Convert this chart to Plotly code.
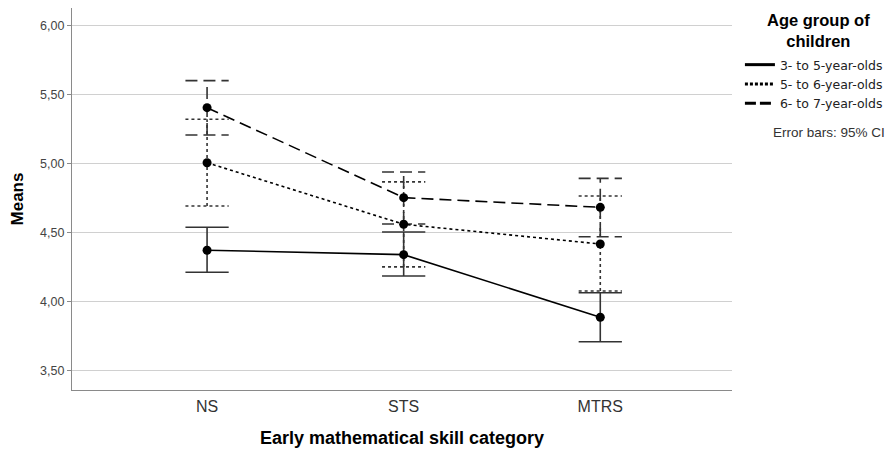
import plotly.graph_objects as go

categories = ["NS", "STS", "MTRS"]
series_names = ["3- to 5-year-olds", "5- to 6-year-olds", "6- to 7-year-olds"]
means = [
    [4.375, 4.343, 3.889],
    [5.009, 4.563, 4.420],
    [5.408, 4.756, 4.686],
]
ci_low = [
    [4.215, 4.188, 3.712],
    [4.696, 4.254, 4.080],
    [5.210, 4.565, 4.473],
]
ci_high = [
    [4.541, 4.507, 4.067],
    [5.324, 4.870, 4.768],
    [5.604, 4.942, 4.896],
]
ytick_vals = [3.5, 4.0, 4.5, 5.0, 5.5, 6.0]
ytick_text = ["3,50", "4,00", "4,50", "5,00", "5,50", "6,00"]

dashes = ["solid", "3px,3px", "12px,6px"]
legend_dashes = ["solid", "3px,2px", "11px,4px"]
CAP = 0.11
FONT = "Arial, Liberation Sans, sans-serif"
LFONT = "DejaVu Sans, Arial, sans-serif"

fig = go.Figure()
xs = list(range(len(categories)))

# error bars
for s in range(3):
    ex, ey = [], []
    for i in xs:
        lo, hi = ci_low[s][i], ci_high[s][i]
        ex += [i, i, None, i - CAP, i + CAP, None, i - CAP, i + CAP, None]
        ey += [lo, hi, None, lo, lo, None, hi, hi, None]
    fig.add_trace(go.Scatter(x=ex, y=ey, mode="lines", showlegend=False,
                             line=dict(color="#333333", width=1.6, dash=dashes[s]),
                             hoverinfo="skip"))

# mean lines
for s in range(3):
    fig.add_trace(go.Scatter(x=xs, y=means[s], mode="lines+markers", name=series_names[s],
                             showlegend=False,
                             line=dict(color="black", width=1.6, dash=dashes[s]),
                             marker=dict(color="black", size=9)))

# legend entries (lines only)
for s in range(3):
    fig.add_trace(go.Scatter(x=[None], y=[None], mode="lines", name=series_names[s],
                             line=dict(color="black", width=3, dash=legend_dashes[s])))

fig.update_layout(
    width=888, height=444,
    margin=dict(l=64, r=164, t=0, b=62),
    paper_bgcolor="white", plot_bgcolor="white",
    font=dict(family=FONT, color="#222222"),
    showlegend=True,
    legend=dict(
        x=1.012, y=0.89, xanchor="left", yanchor="top",
        font=dict(size=12.5, color="#222222", family=LFONT),
        itemwidth=30, tracegroupgap=0, bgcolor="rgba(0,0,0,0)",
    ),
    xaxis=dict(
        range=[-0.687, 2.67], tickvals=xs, ticktext=categories,
        showgrid=False, zeroline=False, automargin=False,
        showline=True, linecolor="#8a8a8a", linewidth=1.2,
        tickfont=dict(size=16, color="#333333"), ticks="",
        ticklabelstandoff=2,
        title=dict(text="<b>Early mathematical skill category</b>",
                   font=dict(size=18, color="black"), standoff=17),
    ),
    yaxis=dict(
        range=[3.362, 6.1304], tickvals=ytick_vals, ticktext=ytick_text,
        showgrid=True, gridcolor="#d0d0d0", gridwidth=1.2, zeroline=False,
        automargin=False,
        showline=True, linecolor="#8a8a8a", linewidth=1.2,
        ticks="outside", ticklen=4, tickcolor="#8a8a8a",
        tickfont=dict(size=12.5, color="#444444"),
        title=dict(text="<b>Means</b>", font=dict(size=17, color="black"), standoff=20),
    ),
    annotations=[
        dict(text="<b>Age group of<br>children</b>", xref="paper", yref="paper",
             x=1.1306, y=1 - (31 - 8) / 382, xanchor="center", yanchor="middle",
             align="center", showarrow=False, font=dict(size=16.5, color="black")),
        dict(text="Error bars: 95% CI", xref="paper", yref="paper",
             x=(771 - 72) / 660, y=1 - (132 - 8) / 382, xanchor="left", yanchor="middle",
             showarrow=False, font=dict(size=13.5, color="#333333")),
    ],
)

fig.write_html("out.html")
